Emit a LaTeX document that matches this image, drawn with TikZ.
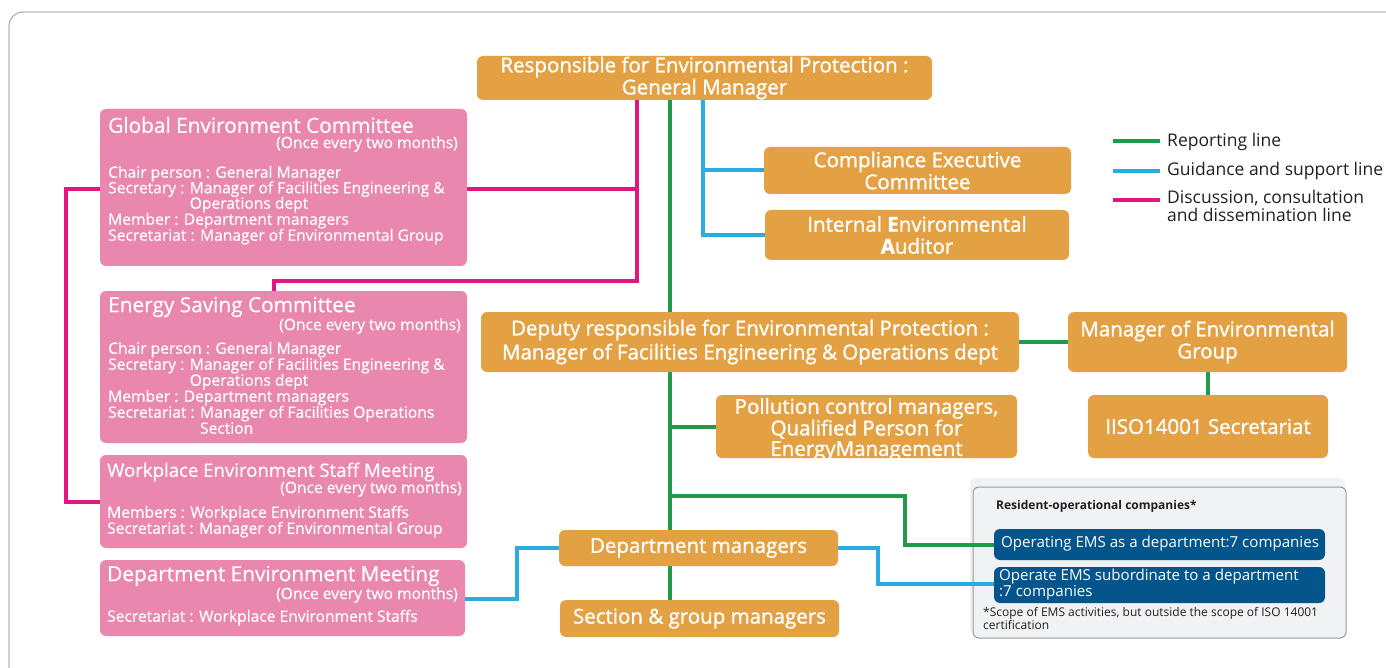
\documentclass[tikz,border=0pt]{standalone}
\usepackage{fontspec}
\setmainfont{Open Sans}
\newfontfamily\boxfont{Open Sans}[FakeBold=1.2]
\newfontfamily\pinkfont{Open Sans}[FakeBold=0.6]
\usetikzlibrary{calc,backgrounds}
\definecolor{orangebox}{HTML}{E4A144}
\definecolor{pinkbox}{HTML}{EA87AE}
\definecolor{repgreen}{HTML}{23994A}
\definecolor{guideblue}{HTML}{2AABE2}
\definecolor{discmag}{HTML}{E3157F}
\definecolor{emsblue}{HTML}{04558C}
\definecolor{panelgray}{HTML}{F1F2F4}
\definecolor{txtdark}{HTML}{231F20}
\tikzset{
  otxt/.style={inner sep=0pt, align=center, text=white, font=\boxfont\fontsize{20.5}{22}\selectfont},
  obox/.style={otxt, fill=orangebox, rounded corners=6pt},
  pbox/.style={fill=pinkbox, rounded corners=6pt, inner sep=0pt},
  ptitle/.style={text=white, inner sep=0pt, anchor=west, font=\pinkfont\fontsize{20.8}{22}\selectfont},
  ponce/.style={text=white, inner sep=0pt, anchor=east, font=\pinkfont\fontsize{15.6}{17}\selectfont},
  pline/.style={text=white, inner sep=0pt, anchor=west, font=\pinkfont\fontsize{15.6}{17}\selectfont,
    text height=11pt, text depth=3.5pt},
  emsbox/.style={fill=emsblue, rounded corners=6pt, inner sep=0pt},
  emstxt/.style={text=white, inner sep=0pt, anchor=west, font=\fontsize{15.1}{17}\selectfont,
    text height=11pt, text depth=3.5pt},
  legtxt/.style={text=txtdark, inner sep=0pt, anchor=west, font=\fontsize{17.5}{18.5}\selectfont},
  gline/.style={draw=repgreen, line width=4pt},
  bline/.style={draw=guideblue, line width=4pt},
  mline/.style={draw=discmag, line width=4pt},
}
\begin{document}
\begin{tikzpicture}[x=1pt,y=-1pt]
\useasboundingbox (0,0) rectangle (1386,668);
% outer frame
\draw[draw=black!28, line width=1.3pt, rounded corners=14pt] (9,690) -- (9,12) -- (1400,12);

% orange boxes
\node[obox, minimum width=455pt, minimum height=44pt] (top) at (704.5,78) {Responsible for Environmental Protection :\\General Manager};
\node[obox, minimum width=307pt, minimum height=47pt] (comp) at (917.5,170.5) {Compliance Executive\\Committee};
\node[obox, minimum width=304pt, minimum height=50pt] (aud) at (917,235) {Internal \textbf{E}nvironmental\\\textbf{A}uditor};
\node[obox, minimum width=538pt, minimum height=60pt, font=\boxfont\fontsize{20.5}{24}\selectfont] (dep) at (750,342) {Deputy responsible for Environmental Protection :\\Manager of Facilities Engineering \& Operations dept};
\node[obox, minimum width=279pt, minimum height=60pt] (meg) at (1207.5,342) {Manager of Environmental\\Group};
\node[obox, minimum width=240pt, minimum height=63pt] (iso) at (1208,426.5) {IISO14001 Secretariat};
\node[obox, minimum width=301pt, minimum height=63pt] (pol) at (866.5,426.5) {};
\node[otxt, font=\boxfont\fontsize{20.5}{20.5}\selectfont] (pol-t) at (866.5,429.5) {Pollution control managers,\\Qualified Person for\\EnergyManagement};
\node[obox, minimum width=279pt, minimum height=36pt] (dm) at (698.5,548) {Department managers};
\node[obox, minimum width=279pt, minimum height=37pt] (sec) at (699.5,618.5) {Section \& group managers};

% pink committee boxes
\node[pbox, minimum width=367pt, minimum height=157pt] (gec) at (283.5,187.5) {};
\node[ptitle] (gec-t) at (108,125) {Global Environment Committee};
\node[ponce] (gec-o) at (458,144) {(Once every two months)};
\node[pline] (gec-1) at (108,174) {Chair person : General Manager};
\node[pline] (gec-2) at (108,189.5) {Secretary : Manager of Facilities Engineering \&};
\node[pline] (gec-3) at (108,205) {\phantom{Secretary : }Operations dept};
\node[pline] (gec-4) at (108,221) {Member : Department managers};
\node[pline] (gec-5) at (108,237) {Secretariat : Manager of Environmental Group};

\node[pbox, minimum width=367pt, minimum height=152pt] (esc) at (283.5,367) {};
\node[ptitle] (esc-t) at (108,307) {Energy Saving Committee};
\node[ponce] (esc-o) at (461,326) {(Once every two months)};
\node[pline] (esc-1) at (108,350) {Chair person : General Manager};
\node[pline] (esc-2) at (108,366) {Secretary : Manager of Facilities Engineering \&};
\node[pline] (esc-3) at (108,382) {\phantom{Secretary : }Operations dept};
\node[pline] (esc-4) at (108,398) {Member : Department managers};
\node[pline] (esc-5) at (108,414) {Secretariat : Manager of Facilities Operations};
\node[pline] (esc-6) at (108,430) {\phantom{Secretariat : }Section};

\node[pbox, minimum width=367pt, minimum height=93pt] (wesm) at (283.5,501.5) {};
\node[ptitle, font=\pinkfont\fontsize{18.6}{20}\selectfont] (wesm-t) at (107,472) {Workplace Environment Staff Meeting};
\node[ponce] (wesm-o) at (462,489) {(Once every two months)};
\node[pline] (wesm-1) at (107,514) {Members : Workplace Environment Staffs};
\node[pline] (wesm-2) at (107,530) {Secretariat : Manager of Environmental Group};

\node[pbox, minimum width=365pt, minimum height=76pt] (dem) at (282.5,598) {};
\node[ptitle, font=\pinkfont\fontsize{20.8}{22}\selectfont] (dem-t) at (107,576) {Department Environment Meeting};
\node[ponce] (dem-o) at (458,595) {(Once every two months)};
\node[pline] (dem-1) at (107,618) {Secretariat : Workplace Environment Staffs};

% resident companies
\node[text=txtdark, inner sep=0pt, anchor=west, font=\fontsize{12}{14}\selectfont\bfseries] (res-t) at (996,506) {Resident-operational companies*};
\node[emsbox, minimum width=331pt, minimum height=31pt] (ems1) at (1159.5,544.5) {};
\node[emstxt] (ems1-t) at (1001,544) {Operating EMS as a department:7 companies};
\node[emsbox, minimum width=331pt, minimum height=36pt] (ems2) at (1159.5,585) {};
\node[emstxt] (ems2-t) at (999,577) {Operate EMS subordinate to a department};
\node[emstxt] (ems2-u) at (999,593) {:7 companies};
\node[text=txtdark, inner sep=0pt, font=\fontsize{12}{13}\selectfont, align=left, anchor=north west] (res-f) at (983,607) {*Scope of EMS activities, but outside the scope of ISO 14001\\certification};

% routing coordinates
\coordinate (trunk) at (670,0);
\coordinate (guide) at (703,0);
\coordinate (disc) at (637,0);
\coordinate (discl) at (66,0);
\coordinate (esctap) at (274,281);
\coordinate (resx) at (905,496);
\coordinate (dml) at (517,0);
\coordinate (dmr) at (878,0);

\begin{scope}[on background layer]
% panel for resident companies
\fill[panelgray, rounded corners=6pt] (970,478) rectangle (1345,634);
\node[draw=black!40, line width=1pt, rounded corners=6pt, minimum width=373pt, minimum height=151pt, inner sep=0pt, fill=panelgray] (res) at (1159.5,562.5) {};

% reporting lines
\draw[gline] (top.south -| trunk) -- (sec.north -| trunk);
\draw[gline] (dep.east) -- (meg.west);
\draw[gline] (meg.south) -- (iso.north -| meg.south);
\draw[gline] (trunk |- pol.west) -- (pol.west);
\draw[gline] (trunk |- resx) -- (resx) -- (resx |- ems1.west) -- (ems1.west);

% guidance and support lines
\draw[bline] (top.south -| guide) -- (guide |- aud.west) -- (aud.west);
\draw[bline] (guide |- comp.west) -- (comp.west);
\draw[bline] (dm.west) -- (dml |- dm.west) -- (dml |- 0,599) -- (dem.east |- 0,599);
\draw[bline] (dm.east) -- (dmr |- dm.east) -- (dmr |- 0,584) -- (ems2.west |- 0,584);

% discussion lines
\draw[mline] (gec.east |- 0,189) -- (disc |- 0,189);
\draw[mline] (top.south -| disc) -- (disc |- esctap) -- (esctap) -- (esctap |- esc.north);
\draw[mline] (gec.west |- 0,189) -- (discl |- 0,189) -- (discl |- 0,502) -- (wesm.west |- 0,502);
\end{scope}

% legend
\draw[gline] (1113,141) -- (1160,141);
\draw[bline] (1113,171) -- (1160,171);
\draw[mline] (1113,200) -- (1160,200);
\node[legtxt] (leg-1) at (1167,142) {Reporting line};
\node[legtxt] (leg-2) at (1167,171) {Guidance and support line};
\node[legtxt, align=left, anchor=north west] (leg-3) at (1167,190) {Discussion, consultation\\and dissemination line};
\end{tikzpicture}
\end{document}
